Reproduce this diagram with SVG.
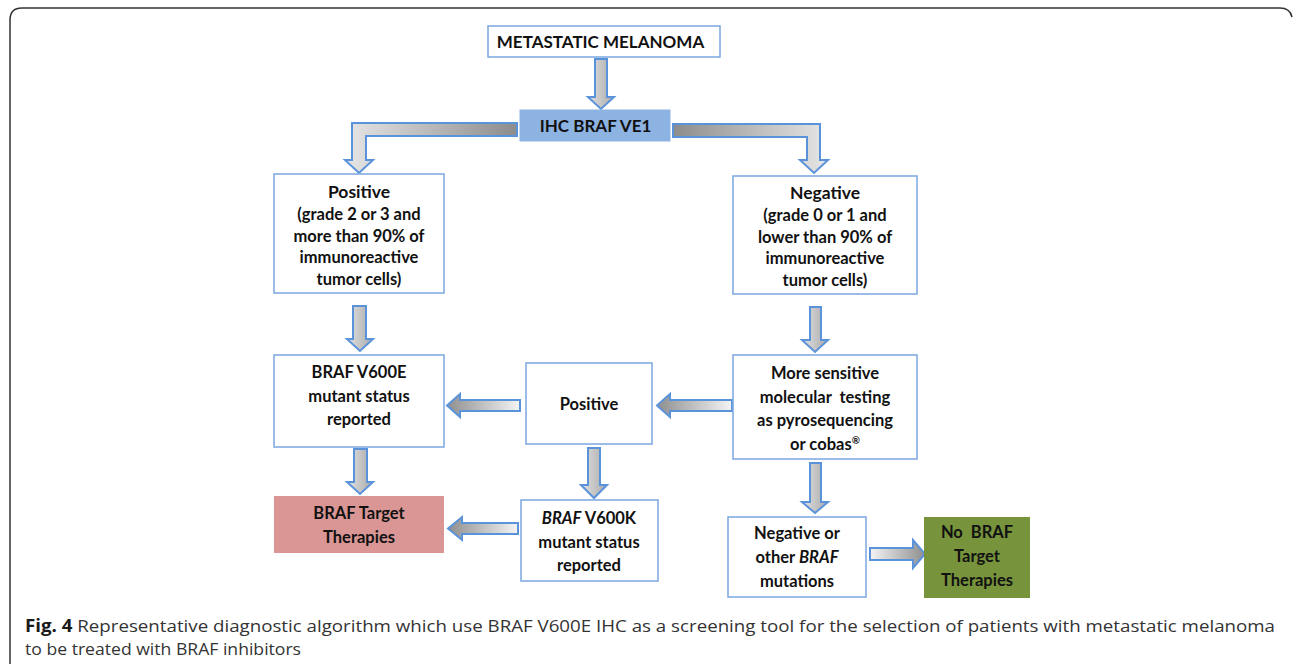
<svg xmlns="http://www.w3.org/2000/svg" width="1293" height="668" viewBox="0 0 1293 668">
<defs>
<style>
.box{fill:#ffffff;stroke:#7ba7e0;stroke-width:1.5}
.t{font-family:Lato,"Liberation Sans",sans-serif;font-weight:bold;font-size:16.5px;fill:#111;text-anchor:middle}
.arr{stroke:#5b93da;stroke-width:2;stroke-linejoin:miter}
.cap{font-family:"Open Sans","Liberation Sans",sans-serif;font-size:17px;fill:#333}
</style>
<linearGradient id="gDown" x1="0" y1="0" x2="1" y2="0">
<stop offset="0" stop-color="#e2e2e2"/><stop offset="1" stop-color="#a9a9a9"/>
</linearGradient>
<linearGradient id="gLeft" x1="0" y1="0" x2="1" y2="0">
<stop offset="0" stop-color="#8f8f8f"/><stop offset="1" stop-color="#f4f4f4"/>
</linearGradient>
<linearGradient id="gRight" x1="0" y1="0" x2="1" y2="0">
<stop offset="0" stop-color="#f4f4f4"/><stop offset="1" stop-color="#8f8f8f"/>
</linearGradient>
<linearGradient id="gElbL" gradientUnits="userSpaceOnUse" x1="345" y1="0" x2="517" y2="0">
<stop offset="0" stop-color="#e6e6e6"/><stop offset="1" stop-color="#8c8c8c"/>
</linearGradient>
<linearGradient id="gElbR" gradientUnits="userSpaceOnUse" x1="673" y1="0" x2="828" y2="0">
<stop offset="0" stop-color="#8c8c8c"/><stop offset="1" stop-color="#e6e6e6"/>
</linearGradient>
</defs>

<path d="M 10,664 V 20 Q 10,8 22,8 H 1280 Q 1290,8 1292,17" fill="none" stroke="#333" stroke-width="1.5"/>

<g id="connectors">
<path class="arr" fill="url(#gDown)" d="M 595,59 H 607 V 97 H 614 L 601,109 L 588,97 H 595 Z"/>
<path class="arr" fill="url(#gElbL)" d="M 517,123 H 352 V 160 H 345 L 359,173 L 373,160 H 366 V 136 H 517 Z"/>
<path class="arr" fill="url(#gElbR)" d="M 673,124 H 820 V 160 H 828 L 814,173 L 800,160 H 807 V 137 H 673 Z"/>
<path class="arr" fill="url(#gDown)" d="M 353,306 H 366 V 339 H 373 L 360,351 L 347,339 H 353 Z"/>
<path class="arr" fill="url(#gDown)" d="M 354,449 H 367 V 482 H 373 L 360,494 L 347,482 H 354 Z"/>
<path class="arr" fill="url(#gDown)" d="M 588,448 H 600 V 485 H 607 L 594,498 L 581,485 H 588 Z"/>
<path class="arr" fill="url(#gDown)" d="M 810,307 H 821 V 340 H 828 L 815,352 L 802,340 H 810 Z"/>
<path class="arr" fill="url(#gDown)" d="M 810,463 H 821 V 502 H 828 L 815,513 L 802,502 H 810 Z"/>
<path class="arr" fill="url(#gLeft)" d="M 520,400 V 411 H 460 V 417 L 447,405.5 L 460,394 V 400 Z"/>
<path class="arr" fill="url(#gLeft)" d="M 732,400 V 411 H 670 V 417 L 657,405.5 L 670,394 V 400 Z"/>
<path class="arr" fill="url(#gLeft)" d="M 518,523 V 534 H 462 V 540 L 448,528.5 L 462,517 V 523 Z"/>
<path class="arr" fill="url(#gRight)" d="M 870,548 H 913 V 540 L 925,554 L 913,568 V 560 H 870 Z"/>
</g>

<g id="n-metastatic">
<rect class="box" x="488" y="26" width="232" height="31"/>
<text class="t" x="600.5" y="48" style="font-size:17px">METASTATIC MELANOMA</text>
</g>

<g id="n-ihc">
<rect x="520" y="110" width="150" height="31" fill="#8db3e2" stroke="#8db3e2" stroke-width="1"/>
<text class="t" x="595.5" y="132" style="font-size:17px">IHC BRAF VE1</text>
</g>

<g id="n-positive-ihc">
<rect class="box" x="274" y="174" width="170" height="119"/>
<text class="t" x="359" y="198" style="font-size:17.5px">Positive</text>
<text class="t" x="359" y="220">(grade 2 or 3 and</text>
<text class="t" x="359" y="241.5">more than 90% of</text>
<text class="t" x="359" y="263">immunoreactive</text>
<text class="t" x="359" y="284.5">tumor cells)</text>
</g>

<g id="n-negative-ihc">
<rect class="box" x="733" y="176" width="184" height="118"/>
<text class="t" x="825" y="199" style="font-size:17.5px">Negative</text>
<text class="t" x="825" y="221">(grade 0 or 1 and</text>
<text class="t" x="825" y="242.5">lower than 90% of</text>
<text class="t" x="825" y="264">immunoreactive</text>
<text class="t" x="825" y="285.5">tumor cells)</text>
</g>

<g id="n-v600e">
<rect class="box" x="274" y="355" width="170" height="92"/>
<text class="t" x="359" y="378">BRAF V600E</text>
<text class="t" x="359" y="401.5">mutant status</text>
<text class="t" x="359" y="425">reported</text>
</g>

<g id="n-positive-mol">
<rect class="box" x="526" y="363" width="126" height="81"/>
<text class="t" x="589" y="410">Positive</text>
</g>

<g id="n-molecular">
<rect class="box" x="733" y="355" width="184" height="104"/>
<text class="t" x="825" y="379">More sensitive</text>
<text class="t" x="825" y="402.5" xml:space="preserve">molecular  testing</text>
<text class="t" x="825" y="426">as pyrosequencing</text>
<text class="t" x="825" y="450">or cobas<tspan font-size="10" dy="-6">®</tspan></text>
</g>

<g id="n-braf-target">
<rect x="274" y="496" width="170" height="57" fill="#d99694"/>
<text class="t" x="359" y="519">BRAF Target</text>
<text class="t" x="359" y="543">Therapies</text>
</g>

<g id="n-v600k">
<rect class="box" x="521" y="500" width="137" height="81"/>
<text class="t" x="589" y="524"><tspan font-style="italic">BRAF</tspan> V600K</text>
<text class="t" x="589" y="547.5">mutant status</text>
<text class="t" x="589" y="571">reported</text>
</g>

<g id="n-neg-other">
<rect class="box" x="728" y="517" width="138" height="80"/>
<text class="t" x="797" y="539">Negative or</text>
<text class="t" x="797" y="563">other <tspan font-style="italic">BRAF</tspan></text>
<text class="t" x="797" y="587">mutations</text>
</g>

<g id="n-no-braf">
<rect x="924" y="517" width="106" height="81" fill="#77933c"/>
<text class="t" x="977" y="538" xml:space="preserve">No  BRAF</text>
<text class="t" x="977" y="562">Target</text>
<text class="t" x="977" y="586">Therapies</text>
</g>

<g id="caption">
<text class="cap" x="25" y="632" textLength="1250" lengthAdjust="spacingAndGlyphs"><tspan font-weight="bold" fill="#1a1a1a">Fig. 4</tspan> Representative diagnostic algorithm which use BRAF V600E IHC as a screening tool for the selection of patients with metastatic melanoma</text>
<text class="cap" x="25" y="655" textLength="276" lengthAdjust="spacingAndGlyphs">to be treated with BRAF inhibitors</text>
</g>
</svg>
